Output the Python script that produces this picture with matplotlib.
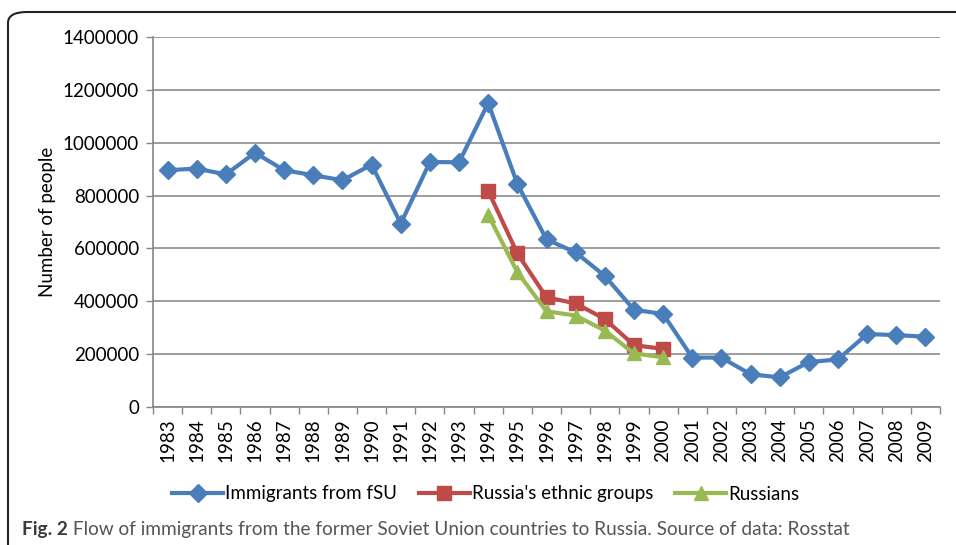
import matplotlib
matplotlib.use('Agg')
import matplotlib.pyplot as plt
from matplotlib.patches import FancyBboxPatch

# data
years = [str(y) for y in range(1983, 2010)]
immigrants_fsu = [896000, 902000, 880000, 962000, 896000, 877000, 858000, 917000,
                  694000, 927000, 926000, 1150000, 844000, 634000, 585000, 496000,
                  368000, 352000, 187000, 187000, 124000, 112000, 170000, 180000,
                  276000, 272000, 266000]
ethnic_years = years[11:18]  # 1994-2000
ethnic_groups = [818000, 581000, 415000, 392000, 333000, 234000, 220000]
russians = [727000, 510000, 362000, 346000, 289000, 203000, 188000]

plt.rcParams['font.family'] = ['Lato', 'DejaVu Sans']

fig = plt.figure(figsize=(9.56, 5.45), dpi=100)
fig.set_facecolor('white')
ax = fig.add_axes([153/956, 1-407/545, (940-153)/956, (407-37)/545])

x_all = list(range(len(years)))
x_eth = [years.index(y) for y in ethnic_years]

ax.plot(x_all, immigrants_fsu, color='#4A7EBB', lw=3, marker='D', ms=9,
        label='Immigrants from fSU', zorder=3)
ax.plot(x_eth, ethnic_groups, color='#BE4B48', lw=3, marker='s', ms=10,
        label="Russia's ethnic groups", zorder=4)
ax.plot(x_eth, russians, color='#98B954', lw=3, marker='^', ms=10,
        label='Russians', zorder=5)

ax.set_xlim(-0.5, len(years) - 0.5)
ax.set_ylim(0, 1400000)
ax.set_yticks(range(0, 1400001, 200000))
ax.set_yticklabels([str(v) for v in range(0, 1400001, 200000)], fontsize=13.5)
ax.set_xticks(x_all)
ax.set_xticklabels(years, rotation=90, fontsize=13.5)
ax.set_xticks([i - 0.5 for i in range(len(years) + 1)], minor=True)
ax.tick_params(axis='x', which='major', length=0, pad=8)
ax.tick_params(axis='x', which='minor', length=5, color='#868686', width=1)
ax.tick_params(axis='y', length=5, color='#868686', width=1, pad=5)

ax.grid(axis='y', color='#8C8C8C', lw=1.2)
ax.set_axisbelow(True)
for s in ['top', 'right']:
    ax.spines[s].set_visible(False)
for s in ['left', 'bottom']:
    ax.spines[s].set_color('#868686')
    ax.spines[s].set_linewidth(1.2)

ax.set_ylabel('Number of people', fontsize=13.5, labelpad=5)

fig.legend(loc='center', bbox_to_anchor=(0.508, 1-494/545), ncol=3, frameon=False,
           fontsize=13.5, handlelength=2.7, columnspacing=1.2, handletextpad=0.1)

# outer frame (only left and top edges fall inside the figure)
frame = FancyBboxPatch((8/956, -0.1), 1.1, 1-12/545 + 0.1,
                       boxstyle='round,pad=0,rounding_size=0.02',
                       transform=fig.transFigure, fill=False,
                       edgecolor='#222222', lw=1.5)
fig.patches.append(frame)

t1 = fig.text(22/956, 1-529/545, 'Fig. 2', fontsize=13.7, fontweight='bold',
              color='#3a3a3a', va='center')
ax.annotate(' Flow of immigrants from the former Soviet Union countries to Russia. Source of data: Rosstat',
            xy=(1, 0), xycoords=t1, va='bottom', fontsize=13.7, color='#555555',
            annotation_clip=False)

fig.savefig('out.png', dpi=100)
